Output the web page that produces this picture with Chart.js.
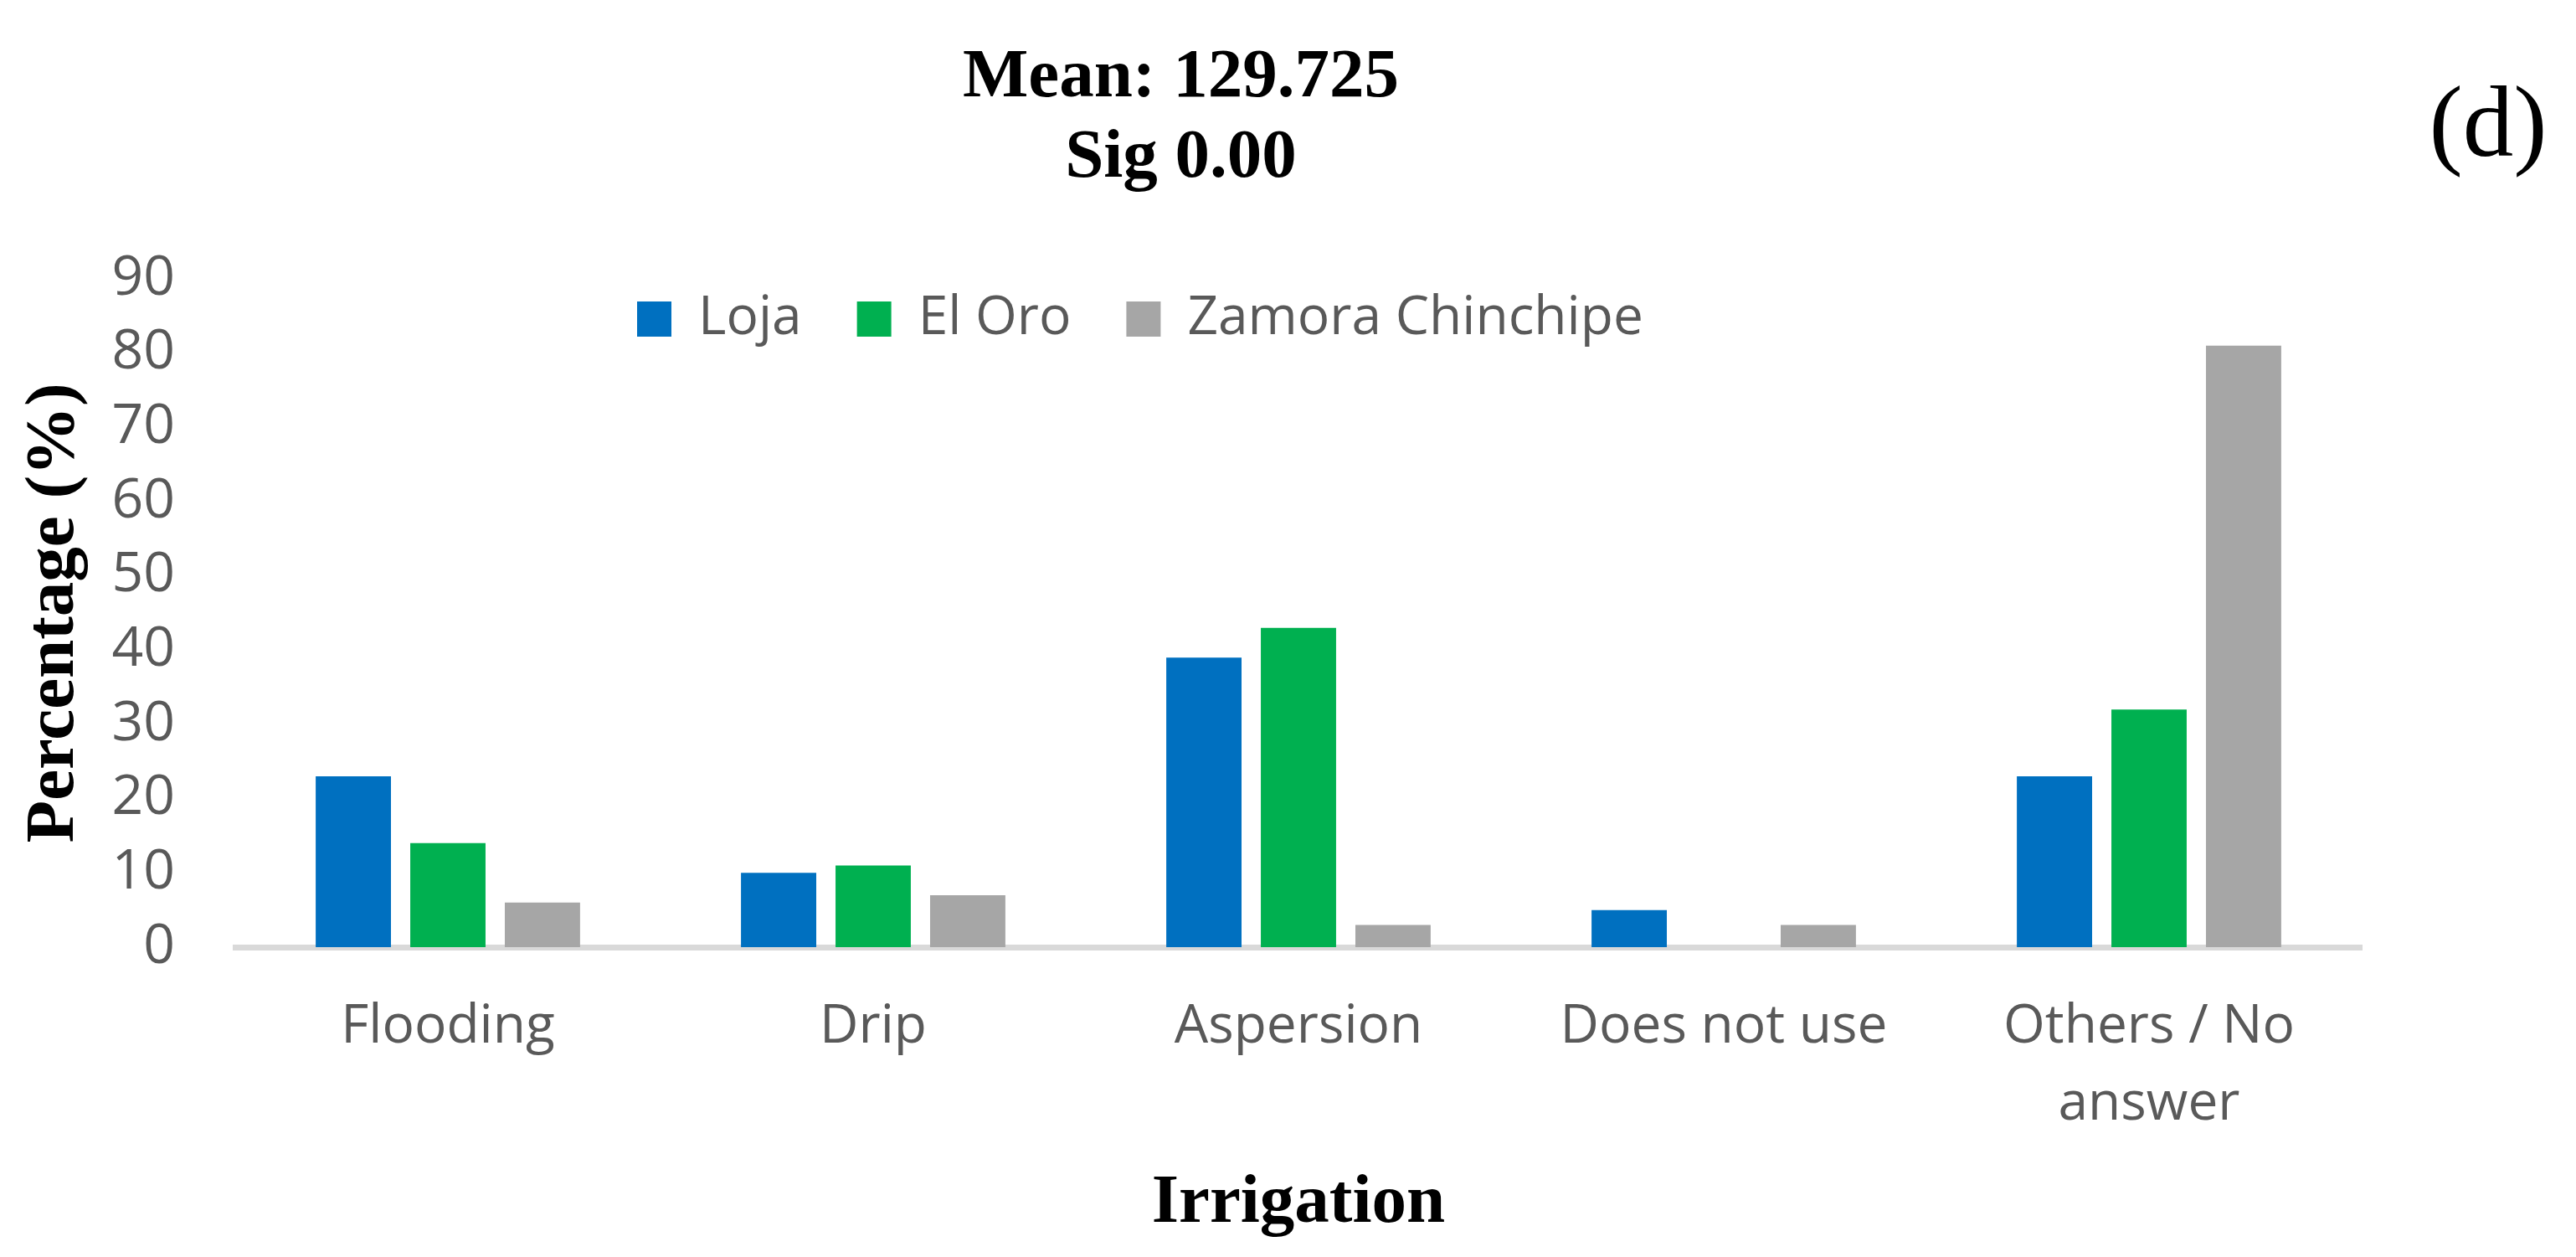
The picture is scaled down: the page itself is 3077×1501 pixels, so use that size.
<!DOCTYPE html>
<html>
<head>
<meta charset="utf-8">
<title>Irrigation</title>
<script src="https://cdn.jsdelivr.net/npm/chart.js@4.4.1/dist/chart.umd.min.js"></script>
<style>
  html, body { margin: 0; padding: 0; background: #fff; }
  canvas { display: block; }
</style>
</head>
<body>
<canvas id="chart" width="3077" height="1501"></canvas>
<script>
// data
const categories = ["Flooding", "Drip", "Aspersion", "Does not use", ["Others / No", "answer"]];
const seriesNames = ["Loja", "El Oro", "Zamora Chinchipe"];
const lojaValues = [23, 10, 39, 5, 23];
const elOroValues = [14, 11, 43, 0, 32];
const zamoraValues = [6, 7, 3, 3, 81];
const seriesColors = ["#0070C0", "#00B050", "#A6A6A6"];
const titleLines = ["Mean: 129.725", "Sig 0.00"];
const panelTag = "(d)";
const yMax = 90;
const yStep = 10;

const serif = "'Liberation Serif', 'Times New Roman', serif";
const sans = "'Open Sans', 'Segoe UI', sans-serif";

Chart.defaults.font.family = sans;
Chart.defaults.color = "#595959";

// legend sits inside the plot area in the original, so move it there after layout
const legendShift = { x: 695, y: 90 };
const moveLegend = {
  id: "moveLegend",
  afterLayout(chart) {
    const lg = chart.legend;
    if (!lg) return;
    lg.left += legendShift.x;
    lg.right += legendShift.x;
    lg.top += legendShift.y;
    lg.bottom += legendShift.y;
  }
};

// the "(d)" panel tag in the top right corner
const panelLabel = {
  id: "panelLabel",
  afterDraw(chart) {
    const ctx = chart.ctx;
    ctx.save();
    ctx.font = "121px " + serif;
    ctx.fillStyle = "#000";
    ctx.textAlign = "center";
    ctx.textBaseline = "alphabetic";
    ctx.fillText(panelTag, 2972, 186);
    ctx.restore();
  }
};

const datasets = [lojaValues, elOroValues, zamoraValues].map((vals, i) => ({
  label: seriesNames[i],
  data: vals,
  backgroundColor: seriesColors[i],
  borderWidth: 0,
  categoryPercentage: 0.667,
  barPercentage: 0.796
}));

new Chart(document.getElementById("chart"), {
  type: "bar",
  data: { labels: categories, datasets },
  options: {
    responsive: false,
    animation: false,
    layout: { padding: { left: 0, right: 256, top: 0, bottom: 0 } },
    plugins: {
      tooltip: { enabled: false },
      title: {
        display: true,
        text: titleLines,
        color: "#000",
        font: { family: serif, size: 83, weight: "bold", lineHeight: 1.15 },
        padding: { top: 46, bottom: -44 }
      },
      legend: {
        position: "top",
        align: "start",
        labels: {
          boxWidth: 41,
          boxHeight: 42,
          padding: 66,
          color: "#595959",
          font: { size: 64 }
        }
      }
    },
    scales: {
      x: {
        z: 1, // axis line drawn over the bar bottoms, as in the original
        grid: { display: true, drawOnChartArea: false, drawTicks: false, color: "rgba(0,0,0,0)" },
        border: { display: true, color: "#D9D9D9", width: 7 },
        ticks: {
          color: "#595959",
          font: { size: 64, lineHeight: 1.44 },
          padding: 50,
          maxRotation: 0,
          autoSkip: false
        },
        title: {
          display: true,
          text: "Irrigation",
          color: "#000",
          font: { family: serif, size: 83, weight: "bold", lineHeight: 1.2 },
          padding: { top: 0, bottom: 14 }
        },
        afterFit(scale) {
          scale.height = 370;
        }
      },
      y: {
        min: 0,
        max: yMax,
        grid: { display: false, drawTicks: false },
        border: { display: false },
        ticks: {
          stepSize: yStep,
          color: "#595959",
          font: { size: 66 },
          padding: 72
        },
        title: {
          display: true,
          text: "Percentage (%)",
          color: "#000",
          font: { family: serif, size: 83, weight: "bold", lineHeight: 1.2 },
          padding: { top: 16, bottom: 0 }
        },
        afterFit(scale) {
          scale.width = 281;
        }
      }
    }
  },
  plugins: [moveLegend, panelLabel]
});
</script>
</body>
</html>
